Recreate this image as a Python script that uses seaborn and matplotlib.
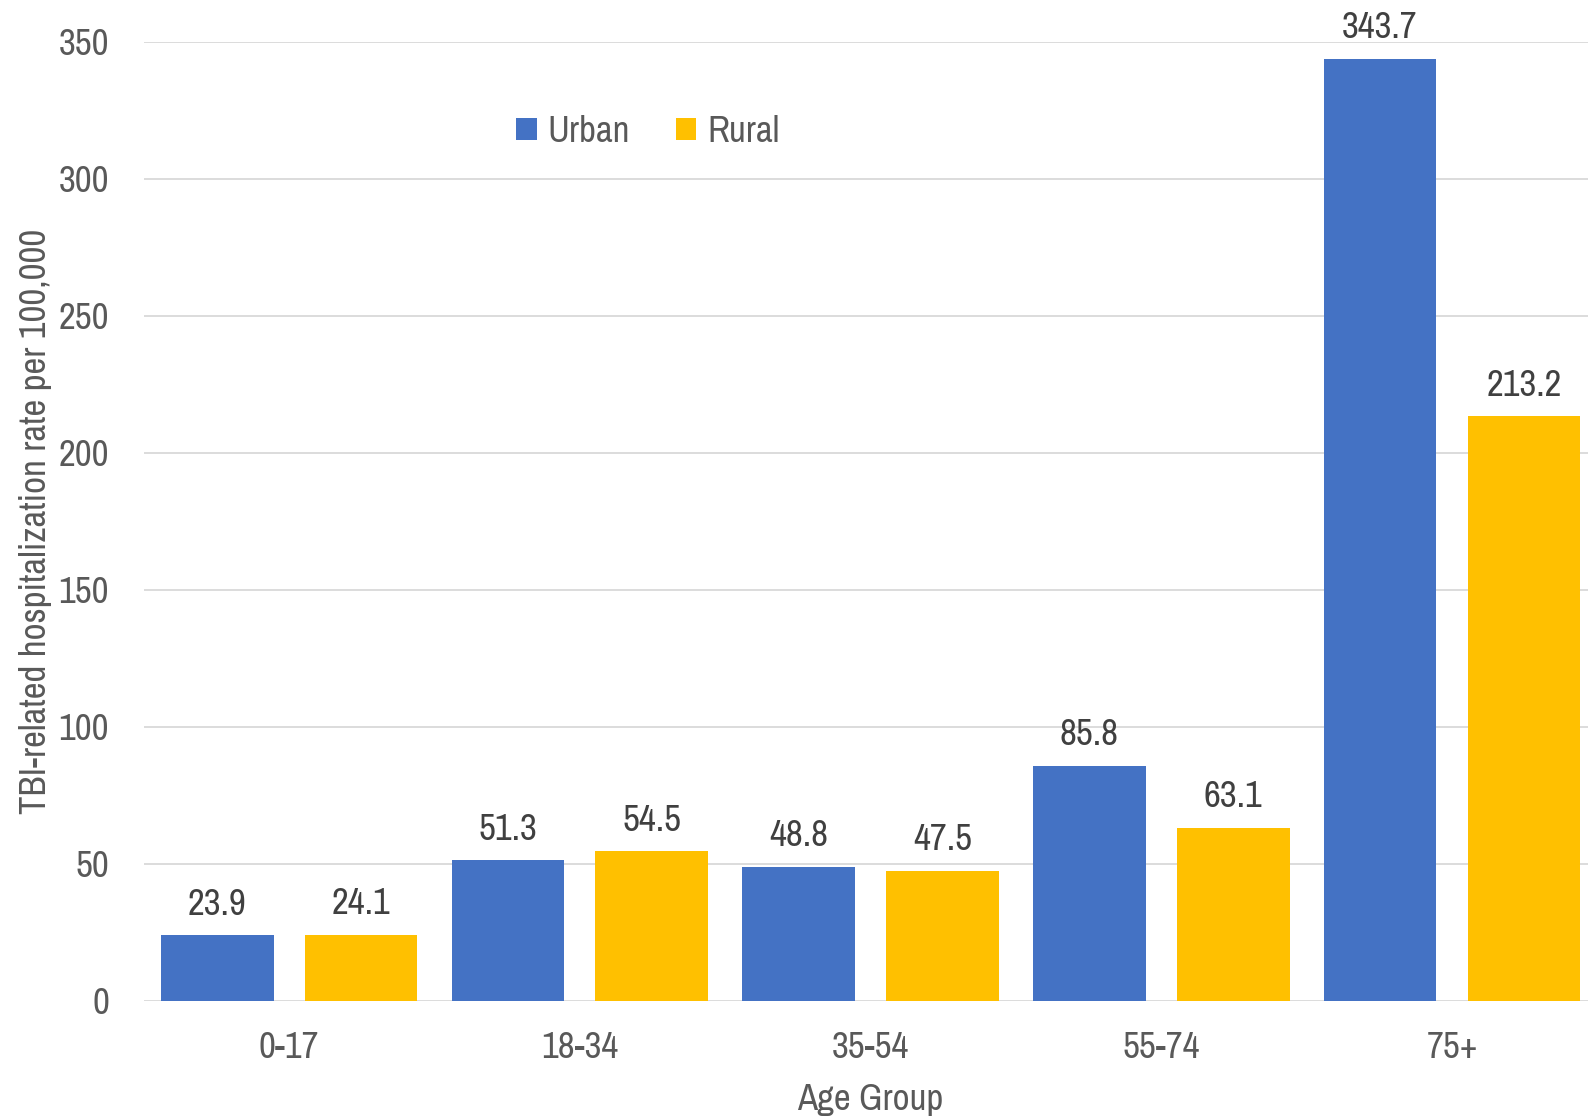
import matplotlib
matplotlib.use("Agg")
import matplotlib.pyplot as plt
import pandas as pd
import seaborn as sns

# Hospitalization rates by age group and setting
age_groups = ["0-17", "18-34", "35-54", "55-74", "75+"]
urban_rates = [23.9, 51.3, 48.8, 85.8, 343.7]
rural_rates = [24.1, 54.5, 47.5, 63.1, 213.2]
settings = ["Urban", "Rural"]
y_ticks = [0, 50, 100, 150, 200, 250, 300, 350]

df = pd.DataFrame({
    "Age Group": age_groups * 2,
    "Rate": urban_rates + rural_rates,
    "Setting": ["Urban"] * len(age_groups) + ["Rural"] * len(age_groups),
})

sns.set_theme(style="white")
plt.rcParams["font.family"] = ["Archivo Narrow", "Liberation Sans", "DejaVu Sans"]

BLUE = "#4472C4"
GOLD = "#FFC000"
TICK_GRAY = "#595959"
LABEL_DARK = "#404040"
GRID = "#D9D9D9"
FS = 26.5

W, H = 1588, 1117
fig = plt.figure(figsize=(W / 100, H / 100), dpi=100)
left_px, top_px, zero_px = 143.8, 41.5, 1000.7
cat_px = 290.7
ax = fig.add_axes([left_px / W, 1 - zero_px / H, 5 * cat_px / W, (zero_px - top_px) / H])

sns.barplot(data=df, x="Age Group", y="Rate", hue="Setting", hue_order=settings,
            palette=[BLUE, GOLD], width=0.99, gap=0.217, linewidth=0,
            saturation=1, ax=ax, errorbar=None)

for cont in ax.containers:
    ax.bar_label(cont, fmt="%.1f", padding=10.5, fontsize=FS, color=LABEL_DARK)

ax.set_xlim(-0.5, 4.5)
ax.set_ylim(0, 350)
ax.set_yticks(y_ticks)
ax.yaxis.grid(True, color=GRID, linewidth=1.3)
ax.xaxis.grid(False)
ax.set_axisbelow(True)
for s in ax.spines.values():
    s.set_visible(False)

ax.tick_params(axis="both", length=0, labelsize=FS, labelcolor=TICK_GRAY)
ax.tick_params(axis="x", pad=22)
ax.tick_params(axis="y", pad=25)

ax.set_xlabel("Age Group", fontsize=FS, color=TICK_GRAY)
ax.xaxis.set_label_coords(0.5, -0.086)
ax.set_ylabel("TBI-related hospitalization rate per 100,000", fontsize=FS, color=TICK_GRAY)
ax.yaxis.set_label_coords(-0.063, 0.5)

leg = ax.legend(loc="center", bbox_to_anchor=(648 / W, 1 - 131.7 / H),
                bbox_transform=fig.transFigure, ncol=2, frameon=False,
                handlelength=0.55, handleheight=0.55, handletextpad=0.3,
                columnspacing=1.25, fontsize=FS)
for t in leg.get_texts():
    t.set_color(TICK_GRAY)

fig.savefig("out.png", dpi=100, facecolor="white")
